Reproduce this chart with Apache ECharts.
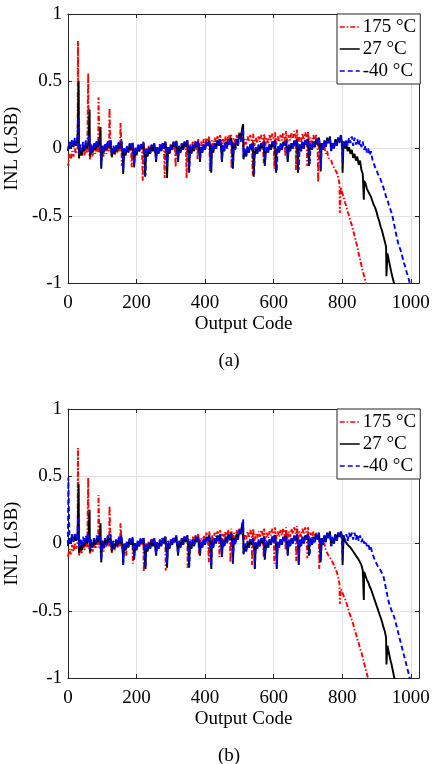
<!DOCTYPE html>
<html>
<head>
<meta charset="utf-8">
<script src="https://cdn.jsdelivr.net/npm/echarts@6/dist/echarts.min.js"></script>
<style>html,body{margin:0;padding:0;background:#fff}#c{width:432px;height:764px}</style>
</head>
<body>
<div id="c"></div>
<script>
// ---------- DATA ----------
const SERIES_NAMES = ['175 °C', '27 °C', '-40 °C'];
const X_TICKS = [0, 200, 400, 600, 800, 1000];
const Y_TICKS = [-1, -0.5, 0, 0.5, 1];
const CODE_STEP = 4; // base samples are read every 4 output codes, starting at code 0

// (a) base INL samples (LSB) at codes 0, 4, 8, ... (8 values per 32-code segment)
const redA = [
 -0.11,-0.04,-0.08,-0.02,-0.06,0.00,-0.04,0.01,   -0.08,-0.02,-0.06,-0.01,-0.05,0.01,-0.03,0.02,
 -0.08,-0.02,-0.06,0.00,-0.04,0.01,-0.03,0.02,    -0.08,-0.02,-0.06,0.00,-0.04,0.01,-0.02,0.02,
 -0.07,-0.01,-0.05,0.01,-0.03,0.02,-0.02,0.03,    -0.07,-0.01,-0.05,0.01,-0.03,0.02,-0.01,0.03,
 -0.06,0.00,-0.04,0.02,-0.02,0.03,-0.01,0.04,     -0.06,0.00,-0.04,0.02,-0.02,0.03,0.00,0.04,
 -0.05,0.01,-0.03,0.03,-0.01,0.04,0.01,0.05,      -0.05,0.01,-0.03,0.03,-0.01,0.05,0.01,0.06,
 -0.04,0.02,-0.02,0.04,0.00,0.05,0.02,0.06,       -0.03,0.03,-0.01,0.05,0.01,0.06,0.03,0.07,
 -0.01,0.05,0.01,0.07,0.03,0.08,0.05,0.09,        0.00,0.06,0.02,0.08,0.04,0.09,0.06,0.10,
 0.01,0.07,0.03,0.09,0.05,0.10,0.07,0.11,         0.02,0.08,0.04,0.10,0.06,0.12,0.09,0.13,
 0.01,0.07,0.03,0.09,0.05,0.10,0.06,0.11,         0.02,0.08,0.04,0.09,0.05,0.10,0.07,0.11,
 0.02,0.08,0.04,0.10,0.06,0.11,0.07,0.12,         0.03,0.09,0.05,0.10,0.06,0.12,0.08,0.13,
 0.04,0.10,0.06,0.12,0.08,0.13,0.09,0.14,         0.03,0.09,0.05,0.11,0.07,0.12,0.08,0.13,
 0.02,0.08,0.04,0.10,0.05,0.10,0.05,0.08,         0.02,0.04,-0.01,0.01,-0.04,-0.02,-0.07,-0.07,
 -0.09,-0.12,-0.14,-0.16,-0.18,-0.21,-0.26,-0.29, -0.33,-0.36,-0.40,-0.43,-0.47,-0.50,-0.54,-0.57,
 -0.61,-0.65,-0.69,-0.73,-0.78,-0.82,-0.87,-0.91, -0.95,-0.99,-1.04
];
const blackA = [
 -0.02,0.04,0.00,0.05,0.01,0.06,0.02,0.07,        -0.07,-0.01,-0.05,0.02,-0.02,0.04,0.00,0.05,
 -0.06,0.01,-0.03,0.03,-0.01,0.05,0.01,0.06,      -0.05,0.02,-0.03,0.03,-0.01,0.05,0.01,0.06,
 -0.06,0.00,-0.04,0.02,-0.02,0.04,0.00,0.05,      -0.07,-0.01,-0.05,0.01,-0.03,0.03,-0.01,0.04,
 -0.07,0.00,-0.05,0.01,-0.02,0.03,0.00,0.04,      -0.08,-0.02,-0.06,0.00,-0.04,0.02,-0.02,0.03,
 -0.06,0.00,-0.04,0.02,-0.02,0.04,0.00,0.05,      -0.06,0.00,-0.04,0.02,-0.01,0.04,0.01,0.05,
 -0.05,0.01,-0.03,0.03,-0.01,0.05,0.01,0.06,      -0.06,0.00,-0.04,0.02,-0.02,0.04,0.01,0.05,
 -0.05,0.01,-0.03,0.03,-0.01,0.05,0.02,0.06,      -0.05,0.02,-0.03,0.04,0.00,0.06,0.02,0.07,
 -0.04,0.02,-0.02,0.05,0.01,0.07,0.03,0.08,       -0.03,0.04,0.00,0.07,0.03,0.11,0.07,0.15,
 -0.08,-0.01,-0.06,0.01,-0.03,0.03,-0.01,0.04,    -0.06,0.00,-0.04,0.02,-0.02,0.04,0.00,0.05,
 -0.05,0.01,-0.03,0.03,-0.01,0.05,0.01,0.06,      -0.05,0.01,-0.03,0.03,-0.01,0.05,0.02,0.06,
 -0.04,0.02,-0.02,0.04,0.00,0.06,0.02,0.07,       -0.04,0.03,-0.02,0.05,0.00,0.06,0.03,0.07,
 -0.03,0.03,-0.01,0.05,0.01,0.07,0.03,0.08,       -0.03,0.04,-0.01,0.06,0.01,0.08,0.04,0.09,
 -0.02,0.04,0.00,0.07,0.02,0.08,0.05,0.10,        0.03,0.05,0.00,0.03,-0.02,0.01,-0.04,-0.01,
 -0.07,-0.04,-0.09,-0.06,-0.12,-0.09,-0.16,-0.19, -0.24,-0.26,-0.30,-0.29,-0.34,-0.36,-0.39,-0.42,
 -0.44,-0.47,-0.51,-0.54,-0.58,-0.61,-0.65,-0.69, -0.73,-0.78,-0.83,-0.88,-0.93,-0.97,-1.01,-1.05
];
const blueA = [
 -0.01,0.05,0.01,0.07,0.02,0.08,0.03,0.09,        -0.04,0.03,-0.02,0.05,0.00,0.06,0.02,0.07,
 -0.04,0.03,-0.02,0.04,0.00,0.06,0.02,0.07,       -0.05,0.02,-0.03,0.04,-0.01,0.06,0.01,0.07,
 -0.05,0.02,-0.03,0.03,-0.01,0.05,0.01,0.06,      -0.06,0.01,-0.04,0.02,-0.02,0.04,0.00,0.05,
 -0.06,0.01,-0.04,0.03,-0.02,0.04,0.01,0.05,      -0.07,0.00,-0.05,0.01,-0.03,0.03,0.00,0.04,
 -0.06,0.01,-0.04,0.03,-0.02,0.04,0.01,0.05,      -0.05,0.02,-0.03,0.03,-0.01,0.05,0.01,0.06,
 -0.05,0.02,-0.03,0.04,-0.01,0.05,0.02,0.06,      -0.05,0.02,-0.03,0.03,-0.01,0.05,0.01,0.06,
 -0.05,0.02,-0.03,0.04,-0.01,0.05,0.02,0.06,      -0.04,0.03,-0.02,0.04,0.00,0.06,0.02,0.07,
 -0.04,0.03,-0.02,0.05,0.00,0.06,0.03,0.07,       -0.03,0.04,-0.01,0.06,0.02,0.09,0.05,0.13,
 -0.07,0.00,-0.05,0.02,-0.03,0.03,0.00,0.04,      -0.06,0.01,-0.04,0.03,-0.02,0.04,0.01,0.05,
 -0.05,0.02,-0.03,0.03,-0.01,0.05,0.01,0.06,      -0.05,0.02,-0.03,0.04,-0.01,0.05,0.02,0.06,
 -0.04,0.03,-0.02,0.04,0.00,0.06,0.02,0.07,       -0.04,0.03,-0.02,0.05,0.00,0.06,0.03,0.07,
 -0.03,0.04,-0.01,0.05,0.01,0.07,0.03,0.08,       -0.03,0.04,-0.01,0.06,0.01,0.07,0.04,0.08,
 -0.02,0.05,0.00,0.06,0.02,0.08,0.04,0.09,        -0.01,0.06,0.01,0.07,0.02,0.08,0.04,0.09,
 0.02,0.08,0.03,0.07,0.02,0.06,0.01,0.05,         -0.01,0.02,-0.03,0.00,-0.05,-0.02,-0.08,-0.09,
 -0.14,-0.16,-0.19,-0.21,-0.23,-0.26,-0.29,-0.32, -0.36,-0.38,-0.42,-0.45,-0.48,-0.52,-0.57,-0.62,
 -0.67,-0.71,-0.74,-0.77,-0.81,-0.85,-0.88,-0.92, -0.95,-0.99,-1.04
];
// (a) narrow spikes / dips: [code, INL]
const redSpikesA = [[1,-0.13],[29,0.80],[59,0.56],[89,0.38],[121,0.30],[153,0.19],[157,-0.13],[186,-0.14],
 [218,-0.24],[282,-0.22],[314,-0.14],[346,-0.22],[378,-0.08],[414,-0.17],[477,-0.15],[539,-0.20],
 [571,-0.11],[602,-0.15],[634,-0.06],[665,-0.16],[698,-0.13],[730,-0.25],[793,-0.48]];
const blackSpikesA = [[31,0.50],[63,0.29],[95,0.16],[97,-0.15],[129,-0.05],[161,-0.19],[193,-0.14],
 [225,-0.21],[257,-0.10],[289,-0.22],[321,-0.10],[353,-0.18],[385,-0.10],[418,-0.18],[449,-0.10],
 [481,-0.15],[511,0.18],[542,-0.21],[574,-0.13],[607,-0.18],[641,-0.10],[671,-0.18],[703,-0.13],
 [737,-0.17],[801,-0.18],[863,-0.38],[929,-0.95]];
const blueSpikesA = [[31,0.23],[63,0.10],[97,-0.12],[161,-0.16],[193,-0.12],[226,-0.20],[257,-0.08],
 [289,-0.13],[321,-0.09],[354,-0.17],[385,-0.08],[417,-0.16],[449,-0.09],[481,-0.14],[511,0.15],
 [543,-0.20],[575,-0.12],[609,-0.17],[641,-0.08],[673,-0.16],[705,-0.12],[738,-0.15],[801,-0.10]];

// (b) base INL samples (LSB) at codes 0, 4, 8, ...
const redB = [
 -0.10,-0.04,-0.08,-0.01,-0.06,0.00,-0.04,0.01,   -0.09,-0.03,-0.07,-0.01,-0.05,0.01,-0.03,0.02,
 -0.08,-0.02,-0.06,0.00,-0.04,0.01,-0.03,0.02,    -0.08,-0.02,-0.06,0.00,-0.03,0.02,-0.02,0.03,
 -0.07,-0.01,-0.05,0.01,-0.03,0.02,-0.02,0.03,    -0.07,-0.01,-0.05,0.01,-0.02,0.03,-0.01,0.03,
 -0.06,0.00,-0.04,0.02,-0.02,0.03,-0.01,0.04,     -0.06,0.00,-0.04,0.02,-0.01,0.04,0.00,0.04,
 -0.05,0.01,-0.03,0.03,-0.01,0.04,0.01,0.05,      -0.05,0.01,-0.03,0.03,-0.01,0.05,0.02,0.06,
 -0.04,0.02,-0.02,0.04,0.00,0.05,0.02,0.06,       -0.03,0.03,-0.01,0.05,0.01,0.06,0.03,0.07,
 -0.01,0.04,0.00,0.06,0.02,0.08,0.05,0.09,        0.00,0.06,0.02,0.08,0.05,0.09,0.06,0.10,
 0.01,0.07,0.03,0.09,0.06,0.10,0.07,0.11,         0.02,0.08,0.04,0.10,0.06,0.11,0.08,0.13,
 0.01,0.07,0.03,0.09,0.05,0.10,0.06,0.11,         0.02,0.07,0.04,0.09,0.05,0.10,0.07,0.11,
 0.02,0.08,0.04,0.09,0.06,0.11,0.07,0.12,         0.03,0.09,0.05,0.10,0.06,0.11,0.08,0.12,
 0.03,0.09,0.05,0.11,0.07,0.12,0.09,0.13,         0.03,0.09,0.05,0.11,0.07,0.12,0.08,0.12,
 0.02,0.08,0.04,0.09,0.05,0.08,0.04,0.06,         0.01,0.03,-0.02,0.00,-0.05,-0.05,-0.09,-0.10,
 -0.12,-0.14,-0.16,-0.19,-0.21,-0.25,-0.30,-0.34, -0.36,-0.39,-0.41,-0.44,-0.47,-0.51,-0.54,-0.57,
 -0.60,-0.64,-0.67,-0.71,-0.74,-0.78,-0.81,-0.85, -0.89,-0.93,-0.97,-1.01,-1.05
];
const blackB = [
 -0.02,0.04,0.00,0.06,0.01,0.06,0.02,0.07,        -0.07,-0.01,-0.05,0.01,-0.02,0.04,0.00,0.05,
 -0.06,0.01,-0.03,0.03,-0.01,0.04,0.01,0.06,      -0.05,0.02,-0.03,0.03,-0.01,0.05,0.01,0.05,
 -0.06,0.00,-0.04,0.02,-0.02,0.04,0.00,0.05,      -0.07,-0.01,-0.05,0.01,-0.03,0.03,-0.01,0.04,
 -0.07,0.00,-0.05,0.01,-0.02,0.03,0.00,0.04,      -0.08,-0.02,-0.06,0.00,-0.04,0.02,-0.02,0.03,
 -0.06,0.00,-0.04,0.02,-0.02,0.04,0.00,0.05,      -0.06,0.00,-0.04,0.02,-0.01,0.04,0.01,0.05,
 -0.05,0.01,-0.03,0.03,-0.01,0.05,0.01,0.06,      -0.06,0.00,-0.04,0.02,-0.02,0.04,0.01,0.05,
 -0.05,0.01,-0.03,0.03,-0.01,0.05,0.02,0.06,      -0.05,0.02,-0.03,0.04,0.00,0.06,0.02,0.07,
 -0.04,0.02,-0.02,0.05,0.01,0.07,0.03,0.08,       -0.03,0.04,0.00,0.07,0.03,0.10,0.07,0.14,
 -0.08,-0.01,-0.06,0.01,-0.03,0.03,-0.01,0.04,    -0.06,0.00,-0.04,0.02,-0.02,0.04,0.00,0.05,
 -0.05,0.01,-0.03,0.03,-0.01,0.05,0.01,0.06,      -0.05,0.01,-0.03,0.03,-0.01,0.05,0.02,0.06,
 -0.04,0.02,-0.02,0.04,0.00,0.06,0.02,0.07,       -0.04,0.03,-0.02,0.05,0.00,0.06,0.03,0.07,
 -0.03,0.03,-0.01,0.05,0.01,0.07,0.03,0.08,       -0.03,0.04,-0.01,0.06,0.01,0.08,0.04,0.09,
 -0.02,0.04,0.00,0.07,0.02,0.08,0.05,0.09,        0.05,0.06,0.02,0.03,-0.01,0.00,-0.03,-0.03,
 -0.06,-0.06,-0.09,-0.09,-0.12,-0.13,-0.16,-0.20, -0.21,-0.24,-0.27,-0.29,-0.32,-0.34,-0.37,-0.40,
 -0.43,-0.46,-0.49,-0.52,-0.55,-0.58,-0.62,-0.65, -0.70,-0.76,-0.81,-0.86,-0.90,-0.95,-1.00,-1.05
];
const blueB = [
 -0.01,0.05,0.01,0.07,0.02,0.07,0.03,0.08,        -0.04,0.03,-0.02,0.05,0.00,0.06,0.02,0.07,
 -0.04,0.03,-0.02,0.04,0.00,0.06,0.02,0.07,       -0.05,0.02,-0.03,0.04,-0.01,0.06,0.01,0.07,
 -0.05,0.02,-0.03,0.03,-0.01,0.05,0.01,0.06,      -0.06,0.01,-0.04,0.02,-0.02,0.04,0.00,0.05,
 -0.06,0.01,-0.04,0.03,-0.02,0.04,0.01,0.05,      -0.07,0.00,-0.05,0.01,-0.03,0.03,0.00,0.04,
 -0.06,0.01,-0.04,0.03,-0.02,0.04,0.01,0.05,      -0.05,0.02,-0.03,0.03,-0.01,0.05,0.01,0.06,
 -0.05,0.02,-0.03,0.04,-0.01,0.05,0.02,0.06,      -0.05,0.02,-0.03,0.03,-0.01,0.05,0.01,0.06,
 -0.05,0.02,-0.03,0.04,-0.01,0.05,0.02,0.06,      -0.04,0.03,-0.02,0.04,0.00,0.06,0.02,0.07,
 -0.04,0.03,-0.02,0.05,0.00,0.06,0.03,0.07,       -0.03,0.04,-0.01,0.06,0.03,0.10,0.07,0.14,
 -0.07,0.00,-0.05,0.02,-0.03,0.03,0.00,0.04,      -0.06,0.01,-0.04,0.03,-0.02,0.04,0.01,0.05,
 -0.05,0.02,-0.03,0.03,-0.01,0.05,0.01,0.06,      -0.05,0.02,-0.03,0.04,-0.01,0.05,0.02,0.06,
 -0.04,0.03,-0.02,0.04,0.00,0.06,0.02,0.07,       -0.04,0.03,-0.02,0.05,0.00,0.06,0.03,0.07,
 -0.03,0.04,-0.01,0.05,0.01,0.07,0.03,0.08,       -0.03,0.04,-0.01,0.06,0.01,0.07,0.04,0.08,
 -0.02,0.05,0.00,0.06,0.02,0.08,0.04,0.09,        -0.01,0.06,0.01,0.07,0.02,0.08,0.04,0.08,
 0.03,0.08,0.03,0.07,0.02,0.06,0.01,0.04,         0.00,0.02,-0.02,0.00,-0.05,-0.03,-0.08,-0.10,
 -0.13,-0.15,-0.17,-0.18,-0.20,-0.22,-0.24,-0.29, -0.34,-0.39,-0.44,-0.47,-0.50,-0.52,-0.55,-0.59,
 -0.63,-0.67,-0.71,-0.75,-0.79,-0.83,-0.87,-0.91, -0.95,-0.99,-1.04
];
const redSpikesB = [[1,-0.10],[29,0.71],[59,0.49],[89,0.36],[121,0.28],[153,0.15],[170,-0.09],[189,-0.15],
 [221,-0.21],[285,-0.20],[349,-0.18],[382,-0.08],[411,-0.14],[442,-0.10],[474,-0.14],[537,-0.16],
 [571,-0.10],[602,-0.15],[635,-0.05],[666,-0.13],[698,-0.11],[733,-0.19],[793,-0.45]];
const blackSpikesB = [[31,0.44],[63,0.25],[95,0.15],[97,-0.14],[161,-0.16],[193,-0.12],[226,-0.19],
 [257,-0.09],[289,-0.18],[321,-0.09],[353,-0.18],[385,-0.09],[418,-0.19],[449,-0.10],[481,-0.15],
 [511,0.16],[545,-0.19],[574,-0.12],[609,-0.19],[641,-0.09],[673,-0.16],[703,-0.09],[737,-0.14],
 [801,-0.16],[863,-0.42],[929,-0.90]];
const blueSpikesB = [[1,0.49],[30,0.20],[63,0.08],[97,-0.12],[161,-0.15],[193,-0.11],[226,-0.18],
 [257,-0.08],[289,-0.14],[321,-0.08],[354,-0.17],[385,-0.08],[418,-0.17],[449,-0.09],[481,-0.14],
 [511,0.18],[545,-0.18],[575,-0.11],[609,-0.17],[641,-0.08],[673,-0.15],[705,-0.09],[738,-0.13],[801,-0.12]];

// ---------- BUILD ----------
function build(base, spikes) {
  const pts = base.map((v, i) => [i * CODE_STEP, v]);
  spikes.forEach(s => pts.push([s[0], s[1]]));
  pts.sort((a, b) => a[0] - b[0]);
  return pts;
}
const FONT = "'Liberation Serif','Times New Roman',serif";
const AX = '#262626';
const COLORS = ['#ff0000', '#000000', '#0000ff'];
const DASH = [[5, 2, 1.5, 2], 'solid', [5, 3]];

function xAxes(g) {
  return [
    { gridIndex: g, type: 'value', min: 0, max: 1024, interval: 200, position: 'bottom',
      axisLine: { show: true, onZero: false, lineStyle: { color: AX, width: 1 } },
      axisTick: { show: true, inside: true, length: 4, lineStyle: { color: AX } },
      axisLabel: { show: true, margin: 11, color: '#000', fontFamily: FONT, fontSize: 19, showMaxLabel: false,
        formatter: v => (X_TICKS.indexOf(v) >= 0 ? String(v) : '') },
      splitLine: { show: true, lineStyle: { color: '#e1e1e1', width: 1 } },
      name: 'Output Code', nameLocation: 'middle', nameGap: 32,
      nameTextStyle: { color: '#000', fontFamily: FONT, fontSize: 19 } },
    { gridIndex: g, type: 'value', min: 0, max: 1024, interval: 200, position: 'top',
      axisLine: { show: true, onZero: false, lineStyle: { color: AX, width: 1 } },
      axisTick: { show: true, inside: true, length: 4, lineStyle: { color: AX } },
      axisLabel: { show: false }, splitLine: { show: false } }
  ];
}
function yAxes(g) {
  return [
    { gridIndex: g, type: 'value', min: -1, max: 1, interval: 0.5, position: 'left',
      axisLine: { show: true, onZero: false, lineStyle: { color: AX, width: 1 } },
      axisTick: { show: true, inside: true, length: 4, lineStyle: { color: AX } },
      axisLabel: { show: true, margin: 6, color: '#000', fontFamily: FONT, fontSize: 19,
        formatter: v => (Y_TICKS.indexOf(v) >= 0 ? String(v) : '') },
      splitLine: { show: true, lineStyle: { color: '#e1e1e1', width: 1 } },
      name: 'INL (LSB)', nameLocation: 'middle', nameGap: 36,
      nameTextStyle: { color: '#000', fontFamily: FONT, fontSize: 19 } },
    { gridIndex: g, type: 'value', min: -1, max: 1, interval: 0.5, position: 'right',
      axisLine: { show: true, onZero: false, lineStyle: { color: AX, width: 1 } },
      axisTick: { show: true, inside: true, length: 4, lineStyle: { color: AX } },
      axisLabel: { show: false }, splitLine: { show: false } }
  ];
}
function mkSeries(name, idx, data, axisIdx) {
  return { name: name, type: 'line', xAxisIndex: axisIdx, yAxisIndex: axisIdx, data: data,
    symbol: 'none', showSymbol: false, clip: true, animation: false, sampling: null,
    lineStyle: { color: COLORS[idx], width: 1.9, type: DASH[idx] }, itemStyle: { color: COLORS[idx] } };
}
function legend(top) {
  return { orient: 'vertical', left: 337, top: top, data: SERIES_NAMES, itemWidth: 20, itemHeight: 14,
    itemGap: 0, padding: [2, 4, 2, 2], backgroundColor: '#fff', borderColor: AX, borderWidth: 1,
    borderRadius: 0, selectedMode: false, itemStyle: { opacity: 0 }, lineStyle: { width: 1.5 },
    textStyle: { color: '#000', fontFamily: FONT, fontSize: 19, lineHeight: 22, padding: [0, 0, 0, -2] } };
}

const chart = echarts.init(document.getElementById('c'), null, { renderer: 'canvas' });
chart.setOption({
  animation: false,
  backgroundColor: '#fff',
  grid: [
    { left: 68, top: 14, width: 351, height: 269, outerBoundsMode: 'none', containLabel: false },
    { left: 68, top: 409, width: 351, height: 269, outerBoundsMode: 'none', containLabel: false }
  ],
  xAxis: xAxes(0).concat(xAxes(1)),
  yAxis: yAxes(0).concat(yAxes(1)),
  legend: [legend(14), legend(409)],
  series: [
    mkSeries(SERIES_NAMES[0], 0, build(redA, redSpikesA), 0),
    mkSeries(SERIES_NAMES[1], 1, build(blackA, blackSpikesA), 0),
    mkSeries(SERIES_NAMES[2], 2, build(blueA, blueSpikesA), 0),
    mkSeries(SERIES_NAMES[0], 0, build(redB, redSpikesB), 2),
    mkSeries(SERIES_NAMES[1], 1, build(blackB, blackSpikesB), 2),
    mkSeries(SERIES_NAMES[2], 2, build(blueB, blueSpikesB), 2)
  ],
  graphic: [
    { type: 'text', style: { text: '(a)', x: 229, y: 361, align: 'center', verticalAlign: 'middle',
      fontFamily: FONT, fontSize: 19, fill: '#000' } },
    { type: 'text', style: { text: '(b)', x: 229, y: 756, align: 'center', verticalAlign: 'middle',
      fontFamily: FONT, fontSize: 19, fill: '#000' } }
  ]
});
</script>
</body>
</html>
